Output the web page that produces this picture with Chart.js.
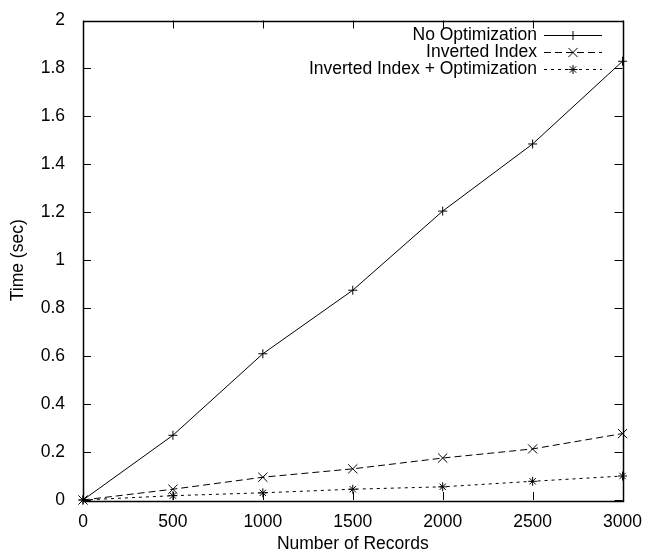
<!DOCTYPE html>
<html>
<head>
<meta charset="utf-8">
<script src="https://cdn.jsdelivr.net/npm/chart.js@4"></script>
<style>
  html, body { margin: 0; padding: 0; background: #fff; }
  #wrap { width: 646px; height: 554px; }
</style>
</head>
<body>
<div id="wrap"><canvas id="chart" width="646" height="554"></canvas></div>
<script>
// data
const records = [0, 500, 1000, 1500, 2000, 2500, 3000];
const noOptimization = [0, 0.27, 0.61, 0.875, 1.205, 1.485, 1.83];
const invertedIndex = [0, 0.045, 0.095, 0.13, 0.175, 0.213, 0.277];
const invertedIndexOpt = [0, 0.018, 0.03, 0.045, 0.055, 0.078, 0.1];
const seriesNames = ["No Optimization", "Inverted Index", "Inverted Index + Optimization"];

const FONT = "'Liberation Sans', Arial, sans-serif";
const FSIZE = 17.5;

function toPoints(vals) {
  return records.map((x, i) => ({ x: x, y: vals[i] }));
}

function makeSet(label, vals, style, radius, dash) {
  return {
    label: label,
    data: toPoints(vals),
    borderColor: '#000',
    borderWidth: 1,
    borderDash: dash,
    pointStyle: style,
    pointRadius: radius,
    pointBorderColor: '#000',
    pointBackgroundColor: 'transparent',
    pointBorderWidth: 1,
    tension: 0,
    clip: false
  };
}

// frame + inward ticks on all four sides, like gnuplot
const frameTicks = {
  id: 'frameTicks',
  afterDatasetsDraw(chart) {
    const { ctx, chartArea: a, scales } = chart;
    const len = 8;
    ctx.save();
    ctx.strokeStyle = '#000';
    ctx.lineWidth = 1;
    ctx.beginPath();
    scales.y.ticks.forEach(t => {
      const y = Math.round(scales.y.getPixelForValue(t.value)) + 0.5;
      ctx.moveTo(a.left, y); ctx.lineTo(a.left + len, y);
      ctx.moveTo(a.right, y); ctx.lineTo(a.right - len, y);
    });
    scales.x.ticks.forEach(t => {
      const x = Math.round(scales.x.getPixelForValue(t.value)) + 0.5;
      ctx.moveTo(x, a.bottom); ctx.lineTo(x, a.bottom - len);
      ctx.moveTo(x, a.top); ctx.lineTo(x, a.top + len);
    });
    ctx.stroke();
    ctx.lineWidth = 1.5;
    ctx.strokeRect(Math.round(a.left) + 0.5, Math.round(a.top) + 0.5,
      Math.round(a.right - a.left), Math.round(a.bottom - a.top));
    ctx.restore();
  }
};

// key in the top right corner: text right aligned, sample to the right
const keyBox = {
  id: 'keyBox',
  afterDraw(chart) {
    const ctx = chart.ctx;
    const textRight = 537, lineL = 544, lineR = 602, top = 35, step = 17;
    ctx.save();
    ctx.font = FSIZE + 'px ' + FONT;
    ctx.fillStyle = '#000';
    ctx.textAlign = 'right';
    ctx.textBaseline = 'middle';
    chart.data.datasets.forEach((ds, i) => {
      const y = Math.round(top + i * step) + 0.5;
      ctx.fillText(ds.label, textRight, y);
      ctx.strokeStyle = '#000';
      ctx.lineWidth = 1;
      ctx.setLineDash(ds.borderDash || []);
      ctx.beginPath();
      ctx.moveTo(lineL, y); ctx.lineTo(lineR, y);
      ctx.stroke();
      ctx.setLineDash([]);
      Chart.helpers.drawPoint(ctx, {
        pointStyle: ds.pointStyle, radius: ds.pointRadius, rotation: 0, borderWidth: 1
      }, (lineL + lineR) / 2, y);
    });
    ctx.restore();
  }
};

new Chart(document.getElementById('chart'), {
  type: 'line',
  data: {
    datasets: [
      makeSet(seriesNames[0], noOptimization, 'cross', 4.5, []),
      makeSet(seriesNames[1], invertedIndex, 'crossRot', 6.5, [7, 4]),
      makeSet(seriesNames[2], invertedIndexOpt, 'star', 4.5, [3, 4])
    ]
  },
  options: {
    responsive: false,
    animation: false,
    layout: { padding: { top: 18, right: 22, left: 0, bottom: 0 } },
    plugins: {
      legend: { display: false },
      tooltip: { enabled: false }
    },
    scales: {
      x: {
        type: 'linear',
        min: 0, max: 3000,
        grid: { display: false },
        border: { display: false },
        ticks: {
          stepSize: 500,
          color: '#000',
          font: { family: FONT, size: FSIZE },
          padding: 4,
          maxRotation: 0,
          callback: v => String(v)
        },
        title: {
          display: true,
          text: 'Number of Records',
          color: '#000',
          font: { family: FONT, size: FSIZE, lineHeight: 1 },
          padding: { top: 0, bottom: 1 }
        },
        afterFit: s => { s.height = 54; }
      },
      y: {
        type: 'linear',
        min: 0, max: 2,
        grid: { display: false },
        border: { display: false },
        ticks: {
          stepSize: 0.2,
          color: '#000',
          font: { family: FONT, size: FSIZE },
          padding: 10,
          callback: v => String(Math.round(v * 10) / 10)
        },
        title: {
          display: true,
          text: 'Time (sec)',
          color: '#000',
          font: { family: FONT, size: FSIZE, lineHeight: 1 },
          padding: { top: 9, bottom: 0 }
        },
        afterFit: s => { s.width = 83; }
      }
    }
  },
  plugins: [frameTicks, keyBox]
});
</script>
</body>
</html>
